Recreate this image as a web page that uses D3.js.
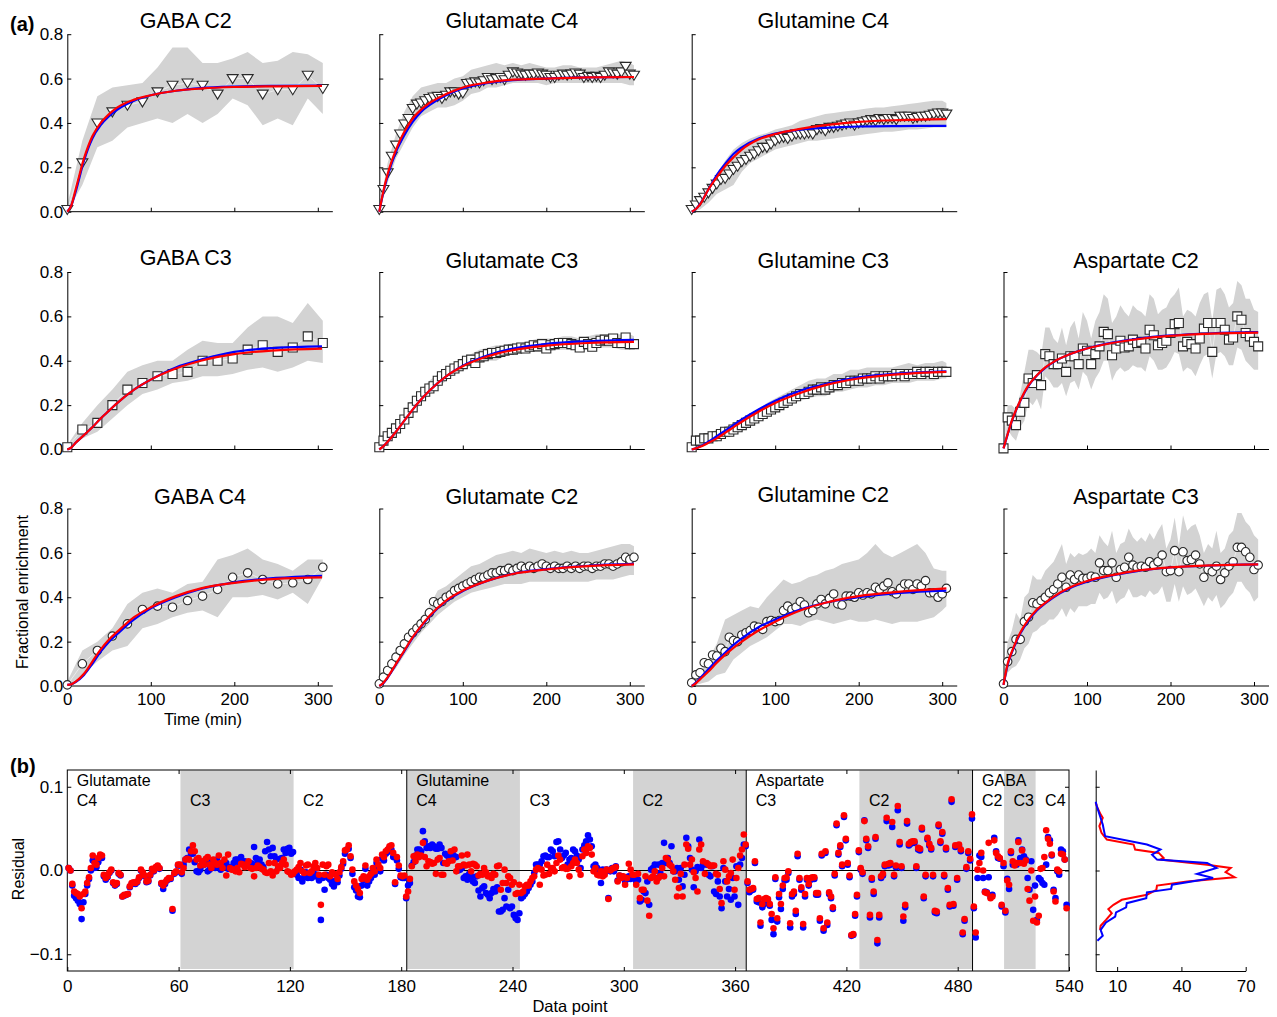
<!DOCTYPE html>
<html><head><meta charset="utf-8">
<script src="https://cdn.jsdelivr.net/npm/d3@7"></script>
<style>
body{margin:0;background:#fff;}
svg{display:block;font-family:"Liberation Sans",Arial,sans-serif;}
</style></head><body>
<svg id="chart" width="1277" height="1017"></svg>
<script>
// ---------- time grids ----------
const T5 = [0,5,10,15,20,25,30,35,40,45,50,55,60,65,70,75,80,85,90,95,100,105,110,115,120,125,130,135,140,145,150,155,160,165,170,175,180,185,190,195,200,205,210,215,220,225,230,235,240,245,250,255,260,265,270,275,280,285,290,295,300,305];
const TG = [0,18,36,54,72,90,108,126,144,162,180,198,216,234,252,270,288,306];
const T10 = [0,10,20,30,40,50,60,70,80,90,100,110,120,130,140,150,160,170,180,190,200,210,220,230,240,250,260,270,280,290,300,305];
const TF = [0,5,10,20,30,40,50,60,80,100,130,160,200,250,305];

// ---------- GABA C2 ----------
const GABA_C2_val = [0.01,0.22,0.40,0.45,0.48,0.495,0.54,0.57,0.58,0.57,0.53,0.60,0.60,0.53,0.55,0.55,0.615,0.555];
const GABA_C2_lo  = [0,0.12,0.29,0.32,0.38,0.40,0.42,0.40,0.44,0.40,0.44,0.51,0.48,0.39,0.42,0.39,0.51,0.44];
const GABA_C2_hi  = [0.03,0.32,0.52,0.56,0.57,0.58,0.65,0.74,0.74,0.67,0.67,0.69,0.72,0.67,0.68,0.72,0.71,0.67];
const GABA_C2_red = [0,0.03,0.10,0.24,0.34,0.40,0.44,0.47,0.505,0.525,0.545,0.555,0.562,0.565,0.567];
const GABA_C2_blue= [0,0.03,0.09,0.23,0.33,0.39,0.43,0.46,0.50,0.525,0.545,0.557,0.564,0.567,0.568];
// ---------- Glutamate C4 ----------
const GLU_C4_val = [0.01,0.10,0.175,0.25,0.30,0.35,0.395,0.42,0.465,0.485,0.49,0.50,0.51,0.517,0.52,0.51,0.525,0.54,0.54,0.53,0.535,0.578,0.58,0.585,0.58,0.59,0.605,0.595,0.60,0.605,0.595,0.615,0.63,0.625,0.62,0.615,0.62,0.62,0.625,0.62,0.615,0.605,0.605,0.615,0.62,0.615,0.62,0.625,0.62,0.605,0.61,0.605,0.61,0.605,0.615,0.63,0.625,0.62,0.63,0.655,0.62,0.615];
const GLU_C4_lo = [0,0.13,0.24,0.31,0.38,0.43,0.45,0.47,0.47,0.48,0.50,0.53,0.54,0.56,0.56,0.57,0.58,0.58,0.58,0.58,0.57,0.58,0.58,0.58,0.58,0.58,0.58,0.58,0.58,0.58,0.57,0.57];
const GLU_C4_hi = [0.02,0.22,0.35,0.45,0.52,0.56,0.57,0.58,0.58,0.60,0.61,0.64,0.65,0.66,0.67,0.66,0.67,0.66,0.67,0.66,0.65,0.65,0.66,0.66,0.65,0.65,0.65,0.66,0.67,0.68,0.67,0.66];
const GLU_C4_red = [0,0.095,0.17,0.28,0.36,0.42,0.46,0.49,0.53,0.56,0.583,0.595,0.60,0.605,0.607];
const GLU_C4_blue= [0,0.09,0.16,0.27,0.345,0.405,0.45,0.48,0.525,0.555,0.58,0.593,0.60,0.605,0.607];
// ---------- Glutamine C4 ----------
const GLN_C4_val = [0.01,0.03,0.05,0.065,0.085,0.105,0.125,0.145,0.15,0.17,0.19,0.205,0.225,0.235,0.25,0.26,0.275,0.29,0.29,0.305,0.32,0.33,0.335,0.33,0.34,0.35,0.35,0.35,0.355,0.35,0.37,0.375,0.365,0.38,0.38,0.385,0.39,0.395,0.40,0.39,0.40,0.405,0.41,0.415,0.41,0.42,0.415,0.42,0.42,0.415,0.43,0.43,0.43,0.42,0.425,0.43,0.43,0.435,0.44,0.445,0.445,0.44];
const GLN_C4_lo = [0,0.01,0.04,0.08,0.10,0.12,0.18,0.22,0.24,0.26,0.28,0.29,0.30,0.31,0.32,0.32,0.325,0.33,0.335,0.34,0.345,0.35,0.355,0.36,0.36,0.365,0.37,0.37,0.375,0.38,0.38,0.38];
const GLN_C4_hi = [0.02,0.06,0.11,0.17,0.23,0.28,0.31,0.33,0.345,0.355,0.37,0.38,0.39,0.41,0.42,0.43,0.44,0.445,0.45,0.455,0.46,0.465,0.47,0.47,0.475,0.48,0.485,0.49,0.495,0.50,0.50,0.49];
const GLN_C4_red = [0,0.012,0.033,0.10,0.155,0.205,0.245,0.28,0.325,0.35,0.373,0.39,0.405,0.413,0.417];
const GLN_C4_blue= [0,0.012,0.035,0.10,0.165,0.215,0.26,0.29,0.33,0.352,0.37,0.378,0.384,0.386,0.387];
// ---------- GABA C3 ----------
const GABA_C3_val = [0.01,0.09,0.12,0.20,0.27,0.30,0.33,0.34,0.35,0.40,0.40,0.41,0.45,0.47,0.44,0.46,0.51,0.48];
const GABA_C3_lo  = [0,0.05,0.08,0.14,0.20,0.25,0.27,0.30,0.31,0.33,0.33,0.34,0.36,0.37,0.35,0.37,0.40,0.39];
const GABA_C3_hi  = [0.02,0.12,0.20,0.27,0.35,0.38,0.40,0.40,0.45,0.49,0.48,0.48,0.55,0.60,0.60,0.57,0.66,0.58];
const GABA_C3_red = [0,0.01,0.03,0.065,0.10,0.14,0.175,0.21,0.27,0.315,0.365,0.40,0.43,0.447,0.455];
const GABA_C3_blue= [0,0.01,0.03,0.065,0.10,0.14,0.175,0.21,0.27,0.315,0.37,0.405,0.44,0.458,0.465];
// ---------- Glutamate C3 ----------
const GLU_C3_val = [0.01,0.04,0.06,0.075,0.095,0.115,0.135,0.165,0.19,0.22,0.24,0.26,0.275,0.285,0.31,0.33,0.34,0.355,0.365,0.375,0.385,0.40,0.405,0.39,0.415,0.42,0.43,0.435,0.435,0.44,0.445,0.45,0.45,0.455,0.46,0.455,0.463,0.47,0.465,0.475,0.455,0.47,0.475,0.48,0.48,0.48,0.475,0.47,0.46,0.485,0.475,0.463,0.48,0.49,0.495,0.49,0.50,0.48,0.48,0.505,0.475,0.475];
const GLU_C3_lo = [0,0.04,0.07,0.11,0.16,0.21,0.25,0.28,0.31,0.34,0.36,0.38,0.39,0.40,0.40,0.42,0.43,0.43,0.44,0.44,0.44,0.45,0.45,0.45,0.45,0.45,0.46,0.46,0.46,0.45,0.45,0.46];
const GLU_C3_hi = [0.02,0.08,0.12,0.16,0.22,0.27,0.31,0.34,0.37,0.39,0.41,0.43,0.45,0.46,0.47,0.47,0.48,0.48,0.49,0.50,0.50,0.50,0.51,0.51,0.50,0.51,0.52,0.52,0.52,0.52,0.52,0.51];
const GLU_C3_red = [0,0.015,0.035,0.08,0.13,0.18,0.225,0.265,0.33,0.375,0.42,0.448,0.468,0.48,0.485];
const GLU_C3_blue= [0,0.015,0.035,0.08,0.13,0.18,0.225,0.265,0.33,0.378,0.425,0.455,0.476,0.488,0.494];
// ---------- Glutamine C3 ----------
const GLN_C3_val = [0.01,0.04,0.04,0.05,0.05,0.06,0.06,0.07,0.08,0.08,0.09,0.10,0.11,0.12,0.13,0.14,0.15,0.16,0.17,0.18,0.19,0.20,0.21,0.22,0.23,0.24,0.25,0.25,0.26,0.27,0.27,0.28,0.27,0.28,0.29,0.29,0.30,0.30,0.31,0.31,0.31,0.32,0.32,0.32,0.33,0.32,0.33,0.33,0.33,0.34,0.34,0.33,0.34,0.34,0.35,0.34,0.35,0.35,0.34,0.35,0.35,0.35];
const GLN_C3_lo = [0,0.02,0.03,0.05,0.06,0.08,0.10,0.12,0.14,0.16,0.17,0.19,0.21,0.22,0.23,0.24,0.24,0.26,0.26,0.27,0.28,0.28,0.29,0.29,0.30,0.30,0.30,0.31,0.31,0.31,0.32,0.32];
const GLN_C3_hi = [0.02,0.06,0.07,0.09,0.10,0.12,0.14,0.16,0.18,0.21,0.23,0.25,0.27,0.29,0.31,0.32,0.32,0.34,0.34,0.36,0.36,0.37,0.37,0.37,0.37,0.38,0.39,0.38,0.39,0.39,0.40,0.39];
const GLN_C3_red = [0,0.005,0.012,0.03,0.05,0.075,0.10,0.125,0.17,0.21,0.255,0.29,0.32,0.34,0.35];
const GLN_C3_blue= [0,0.005,0.013,0.035,0.06,0.085,0.11,0.135,0.18,0.22,0.265,0.295,0.325,0.343,0.352];
// ---------- Aspartate C2 ----------
const ASP_C2_val = [0.005,0.145,0.13,0.11,0.17,0.21,0.32,0.30,0.335,0.29,0.43,0.42,0.385,0.385,0.41,0.35,0.42,0.42,0.385,0.455,0.445,0.385,0.43,0.465,0.53,0.52,0.425,0.455,0.49,0.46,0.465,0.495,0.48,0.485,0.455,0.54,0.515,0.47,0.48,0.49,0.525,0.565,0.57,0.465,0.485,0.475,0.455,0.50,0.545,0.57,0.44,0.57,0.57,0.54,0.495,0.505,0.60,0.585,0.525,0.51,0.485,0.465];
const ASP_C2_lo = [0,0.09,0.06,0.04,0.10,0.13,0.22,0.20,0.23,0.18,0.33,0.31,0.28,0.28,0.30,0.24,0.30,0.31,0.27,0.35,0.33,0.27,0.32,0.35,0.40,0.40,0.31,0.35,0.37,0.35,0.36,0.38,0.37,0.37,0.35,0.42,0.40,0.36,0.36,0.37,0.40,0.44,0.43,0.35,0.37,0.36,0.33,0.38,0.42,0.43,0.32,0.43,0.44,0.42,0.38,0.38,0.46,0.45,0.40,0.38,0.36,0.36];
const ASP_C2_hi = [0.02,0.20,0.20,0.18,0.25,0.35,0.45,0.45,0.44,0.42,0.55,0.55,0.50,0.48,0.55,0.47,0.55,0.58,0.50,0.62,0.58,0.50,0.58,0.62,0.70,0.68,0.57,0.60,0.65,0.62,0.60,0.65,0.63,0.62,0.60,0.70,0.68,0.61,0.63,0.64,0.68,0.70,0.73,0.60,0.63,0.62,0.60,0.66,0.70,0.71,0.58,0.72,0.73,0.70,0.64,0.66,0.76,0.74,0.68,0.68,0.63,0.62];
const ASP_C2_red = [0.005,0.07,0.13,0.22,0.29,0.335,0.37,0.395,0.43,0.455,0.48,0.497,0.512,0.522,0.527];
const ASP_C2_blue= [0.005,0.068,0.128,0.218,0.287,0.333,0.368,0.394,0.43,0.456,0.482,0.499,0.514,0.524,0.529];
// ---------- GABA C4 ----------
const GABA_C4_val = [0.005,0.10,0.16,0.225,0.28,0.345,0.36,0.355,0.385,0.405,0.435,0.49,0.51,0.48,0.46,0.465,0.48,0.535];
const GABA_C4_lo  = [0,0.05,0.11,0.16,0.18,0.26,0.28,0.31,0.33,0.34,0.31,0.40,0.40,0.41,0.39,0.42,0.37,0.49];
const GABA_C4_hi  = [0.02,0.16,0.20,0.26,0.37,0.42,0.44,0.42,0.46,0.47,0.57,0.59,0.62,0.57,0.55,0.52,0.57,0.57];
const GABA_C4_red = [0.005,0.008,0.02,0.055,0.11,0.165,0.21,0.245,0.31,0.355,0.405,0.44,0.465,0.483,0.49];
const GABA_C4_blue= [0.005,0.008,0.018,0.05,0.10,0.155,0.20,0.235,0.30,0.35,0.40,0.437,0.467,0.487,0.497];
// ---------- Glutamate C2 ----------
const GLU_C2_val = [0.01,0.04,0.07,0.10,0.13,0.16,0.19,0.22,0.24,0.26,0.28,0.30,0.33,0.38,0.37,0.38,0.40,0.41,0.43,0.44,0.45,0.46,0.47,0.48,0.49,0.49,0.50,0.51,0.51,0.52,0.52,0.53,0.52,0.53,0.54,0.53,0.54,0.53,0.54,0.55,0.54,0.53,0.54,0.53,0.53,0.54,0.53,0.54,0.53,0.54,0.54,0.53,0.54,0.54,0.55,0.55,0.54,0.55,0.56,0.58,0.57,0.58];
const GLU_C2_lo = [0,0.04,0.08,0.14,0.19,0.24,0.28,0.32,0.35,0.38,0.40,0.42,0.43,0.44,0.45,0.46,0.46,0.46,0.47,0.47,0.47,0.47,0.47,0.47,0.47,0.47,0.48,0.48,0.48,0.49,0.50,0.50];
const GLU_C2_hi = [0.02,0.08,0.13,0.20,0.26,0.31,0.36,0.43,0.45,0.48,0.51,0.54,0.55,0.57,0.59,0.60,0.61,0.60,0.62,0.61,0.60,0.61,0.60,0.61,0.60,0.60,0.61,0.62,0.63,0.64,0.64,0.63];
const GLU_C2_red = [0,0.015,0.04,0.10,0.16,0.22,0.27,0.315,0.385,0.43,0.475,0.505,0.525,0.54,0.548];
const GLU_C2_blue= [0,0.013,0.037,0.097,0.157,0.217,0.267,0.312,0.382,0.428,0.475,0.506,0.527,0.542,0.55];
// ---------- Glutamine C2 ----------
const GLN_C2_val = [0.015,0.05,0.06,0.105,0.10,0.14,0.135,0.17,0.155,0.22,0.205,0.20,0.23,0.24,0.25,0.27,0.265,0.255,0.29,0.295,0.29,0.295,0.34,0.36,0.345,0.355,0.38,0.365,0.33,0.34,0.37,0.39,0.37,0.395,0.415,0.37,0.365,0.405,0.405,0.40,0.42,0.41,0.42,0.415,0.445,0.435,0.45,0.465,0.425,0.415,0.44,0.46,0.46,0.435,0.46,0.45,0.475,0.42,0.42,0.40,0.415,0.44];
const GLN_C2_lo = [0,0.01,0.02,0.05,0.06,0.12,0.15,0.18,0.20,0.22,0.25,0.28,0.28,0.27,0.29,0.30,0.29,0.28,0.29,0.30,0.29,0.29,0.30,0.29,0.28,0.29,0.29,0.29,0.30,0.31,0.34,0.36];
const GLN_C2_hi = [0.02,0.06,0.12,0.19,0.30,0.32,0.34,0.36,0.35,0.40,0.44,0.48,0.46,0.47,0.49,0.50,0.52,0.53,0.55,0.56,0.57,0.60,0.64,0.60,0.58,0.60,0.62,0.64,0.60,0.53,0.52,0.52];
const GLN_C2_red = [0,0.012,0.03,0.065,0.105,0.14,0.172,0.20,0.25,0.29,0.34,0.375,0.405,0.425,0.44];
const GLN_C2_blue= [0,0.015,0.035,0.075,0.115,0.15,0.185,0.215,0.265,0.30,0.345,0.375,0.40,0.42,0.43];
// ---------- Aspartate C3 ----------
const ASP_C3_val = [0.01,0.11,0.155,0.21,0.21,0.29,0.31,0.375,0.37,0.385,0.40,0.42,0.435,0.46,0.49,0.445,0.50,0.48,0.50,0.485,0.485,0.495,0.49,0.555,0.52,0.52,0.555,0.49,0.525,0.535,0.58,0.545,0.535,0.54,0.535,0.56,0.545,0.56,0.59,0.515,0.52,0.61,0.515,0.605,0.565,0.57,0.59,0.55,0.49,0.525,0.515,0.54,0.48,0.51,0.54,0.56,0.625,0.625,0.605,0.58,0.525,0.545];
const ASP_C3_lo = [0,0.06,0.08,0.09,0.12,0.17,0.19,0.24,0.25,0.27,0.28,0.30,0.30,0.32,0.35,0.31,0.35,0.33,0.36,0.36,0.36,0.37,0.37,0.42,0.39,0.40,0.43,0.37,0.39,0.40,0.44,0.40,0.40,0.41,0.40,0.43,0.41,0.42,0.45,0.38,0.38,0.46,0.38,0.45,0.41,0.42,0.44,0.40,0.36,0.40,0.38,0.41,0.35,0.37,0.40,0.42,0.47,0.47,0.44,0.42,0.38,0.40];
const ASP_C3_hi = [0.02,0.20,0.25,0.33,0.30,0.40,0.42,0.50,0.48,0.48,0.52,0.54,0.56,0.60,0.64,0.55,0.60,0.58,0.60,0.59,0.60,0.62,0.60,0.68,0.65,0.63,0.70,0.60,0.64,0.65,0.71,0.67,0.65,0.67,0.65,0.69,0.66,0.70,0.73,0.62,0.66,0.76,0.63,0.77,0.70,0.72,0.73,0.68,0.60,0.64,0.62,0.70,0.60,0.62,0.68,0.70,0.78,0.78,0.74,0.72,0.68,0.66];
const ASP_C3_red = [0.005,0.10,0.155,0.24,0.30,0.345,0.375,0.403,0.445,0.473,0.50,0.52,0.535,0.544,0.548];
const ASP_C3_blue= [0.005,0.095,0.15,0.235,0.295,0.34,0.372,0.40,0.442,0.47,0.498,0.518,0.534,0.543,0.548];

// ---------- residuals (units of 0.001), one array per segment ----------
const SEG_LABELS = [["Glutamate","C4"],["C3"],["C2"],["Glutamine","C4"],["C3"],["C2"],["Aspartate","C3"],["C2"],["GABA","C2"],["C3"],["C4"]];
const SEG_START = [0,61,122,183,244,305,366,427,488,505,522];
const SEG_LEN   = [61,61,61,61,61,61,61,61,17,17,17];
const SEG_SHADED= [0,1,0,1,0,1,0,1,0,1,0];
const METAB_BOUNDS = [183,366,488];
const RES_RED = [
 [3,0,-16,-25,-27,-28,-31,-45,-28,-25,-15,-8,3,18,9,7,15,19,18,-5,-9,-7,-2,1,-14,-17,-15,-3,-5,-31,-29,-29,-28,-19,-15,-14,-15,-13,-8,1,-2,-6,-13,-12,-5,2,0,4,6,3,-15,-18,-14,-11,-9,-9,-46,-3,-1,7,7],
 [-2,3,13,14,13,23,30,23,13,15,6,11,7,14,16,7,3,13,9,7,18,9,3,13,-6,19,3,1,1,-1,3,-2,8,7,4,7,11,3,2,-7,3,6,4,2,1,-2,-3,9,-1,-6,9,-1,5,3,9,13,7,-1,-2,-5,-4],
 [-1,1,4,9,-1,-3,6,7,-3,-1,5,9,3,-5,-41,7,-5,5,7,-7,-2,-4,-5,-10,-2,4,11,24,25,30,17,1,-13,-18,-22,-27,-10,-7,6,-11,-7,-4,3,-1,13,7,3,19,16,23,25,29,30,21,-14,16,6,-6,-7,-6,-31],
 [-25,-10,5,17,11,19,16,18,33,16,5,11,10,8,9,-4,13,15,-5,-5,9,8,11,23,12,25,-1,5,5,18,7,6,19,7,-1,8,7,5,-6,-4,-5,3,-2,-7,-6,-9,-4,-5,5,6,-23,-15,1,-15,-7,-9,-17,-14,-28,-27,-17],
 [-27,-25,-19,-17,-18,-13,-9,-7,1,3,-17,1,-6,-5,7,-4,3,3,-1,9,18,13,3,4,2,2,-7,5,9,13,9,1,-5,17,25,21,29,27,19,-1,3,-5,-6,-1,-7,-5,1,-34,0,2,3,4,-13,-6,-9,-7,-17,-9,8,1,-5],
 [-5,-17,-4,-33,-23,-23,-7,-36,-54,-9,-7,-1,-13,-9,-7,3,-7,15,13,7,5,-1,-11,-31,-21,-4,-31,7,31,26,7,13,-2,-9,-25,25,31,11,-4,9,7,5,6,6,-4,-5,-22,-39,11,1,-13,-7,-3,13,-23,-9,3,18,25,43,31],
 [-13,-23,-22,-21,11,-34,-33,-62,-40,-34,-33,-34,-40,-52,-69,-8,-57,-28,-40,-18,-9,-8,-1,-63,-28,-25,-48,20,-9,-20,-64,-28,-9,-16,-9,-8,-8,-27,-27,-57,20,-69,23,-62,-26,-31,-44,-4,56,21,30,7,66,38,9,-6,-77,-76,-52,-29,24],
 [3,-2,59,38,29,-53,-9,-25,40,-83,-53,-7,-4,7,63,8,9,58,-5,6,77,34,5,-55,-41,59,32,34,35,35,5,27,26,51,-31,-5,39,32,27,-5,-48,-49,55,35,46,-5,27,-21,-41,85,-40,30,-9,31,25,-74,-58,4,23,14,67],
 [-43,-74,1,9,21,0,-26,-27,33,-33,-31,36,21,17,15,-41,9],
 [-48,-12,-17,23,11,6,9,34,9,24,8,12,-22,-36,0,-60,-31],
 [-62,-54,2,3,16,48,38,32,19,-25,-37,1,-1,20,19,13,-45]
];
const RES_BLUE = [
 [3,0,-18,-30,-33,-36,-40,-58,-38,-28,-18,-10,0,12,3,4,10,15,15,-7,-11,-8,-3,0,-15,-18,-16,-4,-6,-31,-30,-29,-28,-20,-16,-15,-16,-14,-9,0,-3,-7,-14,-13,-6,1,-1,3,5,2,-16,-22,-16,-12,-10,-10,-48,-4,-2,6,6],
 [-4,7,13,15,25,20,20,10,-1,-2,1,6,7,9,-1,1,11,5,3,13,7,1,7,7,9,2,4,4,9,13,13,9,16,10,11,9,7,9,8,28,15,9,13,7,4,23,34,25,17,27,17,13,3,14,15,25,21,26,27,20,22],
 [-3,-5,-9,1,-13,-8,-2,-9,-6,-9,-2,-7,-5,-12,-59,-9,-23,-5,-9,-11,-16,-19,-12,-14,-6,2,8,20,25,26,15,-4,-20,-24,-31,-32,-18,-12,2,-18,-13,-9,-2,-5,9,4,-1,14,12,20,22,27,25,16,-16,12,2,-8,-9,-9,-33],
 [-18,-15,6,10,18,25,25,23,47,35,27,29,27,31,29,26,26,31,27,9,20,18,16,14,21,17,16,0,1,3,-9,-7,-11,-4,-7,-13,-15,-7,-24,-31,-21,-19,-27,-29,-33,-27,-22,-25,-20,-49,-49,-47,-33,-43,-23,-45,-43,-53,-57,-59,-51],
 [-33,-31,-28,-25,-21,-17,-13,-3,7,7,7,11,17,18,16,16,25,23,17,34,35,25,15,18,21,7,13,15,25,23,18,13,3,25,30,35,42,37,29,5,7,3,-2,-15,1,-2,1,-33,-1,3,-1,5,-12,-6,-7,-9,-13,-10,-7,-10,-8],
 [-7,-13,-11,-37,-35,-25,-27,-13,-41,1,3,7,-9,7,-3,9,33,9,15,9,29,-1,-1,3,-11,3,-19,-5,39,29,15,1,-20,-1,4,37,3,7,9,7,-5,-7,5,-25,-28,-13,-31,-45,3,-13,-31,-22,-35,-9,-31,5,-41,7,15,31,29],
 [-15,-26,-24,-23,9,-37,-38,-66,-44,-40,-38,-36,-42,-59,-76,-10,-61,-32,-46,-22,-12,-11,-3,-68,-31,-28,-52,17,-11,-23,-68,-31,-11,-18,-11,-10,-10,-29,-29,-60,18,-72,21,-65,-28,-33,-46,-6,54,19,28,5,64,36,7,-8,-78,-77,-54,-31,22],
 [1,-4,60,36,27,-56,-11,-28,38,-87,-56,-9,-6,5,59,6,7,52,-7,4,72,31,3,-60,-44,56,30,32,33,33,3,25,24,49,-33,-7,37,30,25,-7,-50,-51,53,33,44,-7,25,-23,-43,82,-42,28,-11,29,23,-76,-60,2,21,12,62],
 [-45,-80,-9,18,16,-9,-25,-26,-8,-31,-29,39,23,15,14,-43,5],
 [-50,-10,-22,21,7,7,7,36,15,25,17,13,-9,-23,11,-47,-18],
 [-59,-9,-11,-15,-17,7,40,36,18,-23,-33,-1,-5,25,23,13,-41]
];

// ---------- residual histograms (residual, count) ----------
const HIST_RED_RES = [0.081,0.075,0.067,0.063,0.053,0.045,0.037,0.031,0.025,0.021,0.015,0.013,0.007,0.003,-0.002,-0.008,-0.013,-0.018,-0.023,-0.029,-0.035,-0.041,-0.046,-0.051,-0.059,-0.066,-0.071];
const HIST_RED_CNT = [0,0.8,2.3,3.3,1.7,2.7,5.2,17.7,18.4,29.4,31.7,30.2,52,63,60.6,64.8,42.7,28.6,28.3,23.9,12.2,8.3,5.9,7.5,4.8,2.3,2.0];
const HIST_BLUE_RES = [0.082,0.077,0.065,0.055,0.047,0.041,0.031,0.025,0.019,0.013,0.009,0.003,-0.004,-0.009,-0.017,-0.022,-0.026,-0.033,-0.039,-0.044,-0.050,-0.055,-0.062,-0.071,-0.078,-0.084];
const HIST_BLUE_CNT = [0,0.5,2,3.3,3.9,4.4,23.9,30.2,26.3,28.6,52,56.4,47.3,54.8,35.6,35.2,23.9,23.6,14.5,14.2,9.5,9.1,4.8,2.3,3.3,0.8];

// ---------- panel table ----------
const panels = [
 {title:"GABA C2", col:0,row:0,tdx:118.5,tby:28, mk:"tri", t:TG, v:GABA_C2_val, bt:TG, lo:GABA_C2_lo, hi:GABA_C2_hi, red:GABA_C2_red, blue:GABA_C2_blue},
 {title:"Glutamate C4", col:1,row:0,tdx:132.5,tby:28, mk:"tri", t:T5, v:GLU_C4_val, bt:T10, lo:GLU_C4_lo, hi:GLU_C4_hi, red:GLU_C4_red, blue:GLU_C4_blue},
 {title:"Glutamine C4", col:2,row:0,tdx:131.5,tby:28, mk:"tri", t:T5, v:GLN_C4_val, bt:T10, lo:GLN_C4_lo, hi:GLN_C4_hi, red:GLN_C4_red, blue:GLN_C4_blue},
 {title:"GABA C3", col:0,row:1,tdx:118.5,tby:265, mk:"sq", t:TG, v:GABA_C3_val, bt:TG, lo:GABA_C3_lo, hi:GABA_C3_hi, red:GABA_C3_red, blue:GABA_C3_blue},
 {title:"Glutamate C3", col:1,row:1,tdx:132.5,tby:268, mk:"sq", t:T5, v:GLU_C3_val, bt:T10, lo:GLU_C3_lo, hi:GLU_C3_hi, red:GLU_C3_red, blue:GLU_C3_blue},
 {title:"Glutamine C3", col:2,row:1,tdx:131.5,tby:268, mk:"sq", t:T5, v:GLN_C3_val, bt:T10, lo:GLN_C3_lo, hi:GLN_C3_hi, red:GLN_C3_red, blue:GLN_C3_blue},
 {title:"Aspartate C2", col:3,row:1,tdx:132.5,tby:268, mk:"sq", t:T5, v:ASP_C2_val, bt:T5, lo:ASP_C2_lo, hi:ASP_C2_hi, red:ASP_C2_red, blue:ASP_C2_blue},
 {title:"GABA C4", col:0,row:2,tdx:132.7,tby:504, mk:"ci", t:TG, v:GABA_C4_val, bt:TG, lo:GABA_C4_lo, hi:GABA_C4_hi, red:GABA_C4_red, blue:GABA_C4_blue},
 {title:"Glutamate C2", col:1,row:2,tdx:132.5,tby:504, mk:"ci", t:T5, v:GLU_C2_val, bt:T10, lo:GLU_C2_lo, hi:GLU_C2_hi, red:GLU_C2_red, blue:GLU_C2_blue},
 {title:"Glutamine C2", col:2,row:2,tdx:131.5,tby:502, mk:"ci", t:T5, v:GLN_C2_val, bt:T10, lo:GLN_C2_lo, hi:GLN_C2_hi, red:GLN_C2_red, blue:GLN_C2_blue},
 {title:"Aspartate C3", col:3,row:2,tdx:132.5,tby:504, mk:"ci", t:T5, v:ASP_C3_val, bt:T5, lo:ASP_C3_lo, hi:ASP_C3_hi, red:ASP_C3_red, blue:ASP_C3_blue}
];

// ---------- drawing ----------
const svg = d3.select("#chart");
const FONT = '"Liberation Sans",Arial,sans-serif';
const COLX = [67.3,379.3,691.7,1003.5];
const ROWY = [211.7,449.5,686];
const BAND = "#d3d3d3";
const RED = "#ff0000", BLUE = "#0000ff";

function styleAxis(g, size){
  g.attr("font-family", FONT).attr("font-size", size);
  g.selectAll("text").attr("fill","#000");
  g.selectAll("line").attr("stroke","#000");
  g.selectAll(".domain").attr("stroke","#000");
}

const markerPath = {
  tri: "M-5.5,-4L5.5,-4L0,5Z",
  sq: "M-4.5,-4.5H4.5V4.5H-4.5Z",
  ci: d3.symbol().type(d3.symbolCircle).size(Math.PI*18)()
};

panels.forEach(p => {
  const ox = COLX[p.col], zy = ROWY[p.row];
  const x = d3.scaleLinear().domain([0,300]).range([ox, ox+250.5]);
  const y = d3.scaleLinear().domain([0,0.8]).range([zy, zy-177.5]);
  const g = svg.append("g");
  const area = d3.area().x((d,i)=>x(p.bt[i])).y0(d=>y(d[0])).y1(d=>y(d[1]));
  g.append("path").attr("fill",BAND).attr("d", area(p.lo.map((l,i)=>[l,p.hi[i]])));
  g.append("path").attr("fill","none").attr("stroke","#ececec").attr("stroke-width",1)
    .attr("d", d3.line().x((d,i)=>x(p.t[i])).y(d=>y(d))(p.v));
  const ya = d3.axisLeft(y).tickValues([0,0.2,0.4,0.6,0.8]).tickSize(-4).tickSizeOuter(0).tickPadding(4)
    .tickFormat(p.col===0 ? d3.format(".1f") : ()=>"");
  const yg = g.append("g").attr("transform",`translate(${ox},0)`).call(ya);
  styleAxis(yg, 17);
  const xa = d3.axisBottom(x).tickValues([0,100,200,300]).tickSize(-4).tickSizeOuter(0).tickPadding(7)
    .tickFormat(p.row===2 ? d3.format("d") : ()=>"");
  const xg = g.append("g").attr("transform",`translate(0,${zy})`).call(xa);
  xg.select(".domain").remove();
  styleAxis(xg, 17);
  g.append("line").attr("x1",ox).attr("x2",x(318)).attr("y1",zy).attr("y2",zy).attr("stroke","#000");
  g.selectAll("path.mk").data(p.v).enter().append("path").attr("class","mk")
    .attr("d", markerPath[p.mk])
    .attr("transform",(d,i)=>`translate(${x(p.t[i])},${y(d)})`)
    .attr("fill","#fff").attr("stroke","#2a2a2a").attr("stroke-width",1.1);
  const fl = d3.line().x((d,i)=>x(TF[i])).y(d=>y(d)).curve(d3.curveMonotoneX);
  g.append("path").attr("d",fl(p.blue)).attr("fill","none").attr("stroke",BLUE).attr("stroke-width",2.2);
  g.append("path").attr("d",fl(p.red)).attr("fill","none").attr("stroke",RED).attr("stroke-width",2.2);
  g.append("text").attr("x",ox+p.tdx).attr("y",p.tby).attr("text-anchor","middle")
    .attr("font-family",FONT).attr("font-size",21.5).text(p.title);
});

svg.append("text").attr("x",10).attr("y",31).attr("font-family",FONT).attr("font-size",20).attr("font-weight","bold").text("(a)");
svg.append("text").attr("x",10).attr("y",773).attr("font-family",FONT).attr("font-size",20).attr("font-weight","bold").text("(b)");
svg.append("text").attr("transform","translate(28,592) rotate(-90)").attr("text-anchor","middle")
  .attr("font-family",FONT).attr("font-size",16).text("Fractional enrichment");
svg.append("text").attr("x",203).attr("y",725).attr("text-anchor","middle")
  .attr("font-family",FONT).attr("font-size",16.5).text("Time (min)");

// ---------- residual panel ----------
const rx = d3.scaleLinear().domain([0,540]).range([67.3,1069]);
const ry = d3.scaleLinear().domain([-0.12,0.12]).range([971,770]);
const rg = svg.append("g");
SEG_START.forEach((s,i)=>{
  if (SEG_SHADED[i]) rg.append("rect").attr("x",rx(s)).attr("width",rx(s+SEG_LEN[i])-rx(s))
    .attr("y",770.5).attr("height",198.5).attr("fill",BAND);
});
rg.append("line").attr("x1",rx(0)).attr("x2",rx(540)).attr("y1",ry(0)).attr("y2",ry(0)).attr("stroke","#000");
METAB_BOUNDS.forEach(b=>{
  rg.append("line").attr("x1",rx(b)).attr("x2",rx(b)).attr("y1",770).attr("y2",971).attr("stroke","#000");
});
const ral = d3.axisLeft(ry).tickValues([-0.1,0,0.1]).tickSize(-4).tickSizeOuter(0).tickPadding(4).tickFormat(d3.format(".1f"));
const ralg = rg.append("g").attr("transform",`translate(${rx(0)},0)`).call(ral); ralg.select(".domain").remove(); styleAxis(ralg,17);
const rar = d3.axisRight(ry).tickValues([-0.1,0,0.1]).tickSize(-4).tickSizeOuter(0).tickFormat(()=>"");
const rarg = rg.append("g").attr("transform",`translate(${rx(540)},0)`).call(rar); rarg.select(".domain").remove(); styleAxis(rarg,17);
const rab = d3.axisBottom(rx).tickValues([0,60,120,180,240,300,360,420,480,540]).tickSize(-4).tickSizeOuter(0).tickPadding(8.5);
const rabg = rg.append("g").attr("transform",`translate(0,${ry(-0.12)})`).call(rab); rabg.select(".domain").remove(); styleAxis(rabg,17);
const rat = d3.axisTop(rx).tickValues([60,120,180,240,300,360,420,480]).tickSize(-4).tickSizeOuter(0).tickFormat(()=>"");
const ratg = rg.append("g").attr("transform",`translate(0,${ry(0.12)})`).call(rat); ratg.select(".domain").remove(); styleAxis(ratg,17);
rg.append("rect").attr("x",rx(0)).attr("y",770).attr("width",rx(540)-rx(0)).attr("height",201)
  .attr("fill","none").attr("stroke","#000");
SEG_LABELS.forEach((lab,i)=>{
  const lx = rx(SEG_START[i]) + 9.5;
  const lines = lab.length===2 ? [[lab[0],785.5],[lab[1],806]] : [[lab[0],806]];
  lines.forEach(([t,yy])=> rg.append("text").attr("x",lx).attr("y",yy).attr("font-family",FONT).attr("font-size",16).text(t));
});
[[RES_BLUE,BLUE],[RES_RED,RED]].forEach(([arrs,col])=>{
  arrs.forEach((vals,si)=>{
    rg.selectAll(null).data(vals).enter().append("circle")
      .attr("cx",(d,j)=>rx(SEG_START[si]+j+0.7)).attr("cy",d=>ry(d/1000)).attr("r",3.3).attr("fill",col);
  });
});
svg.append("text").attr("transform","translate(24,869) rotate(-90)").attr("text-anchor","middle")
  .attr("font-family",FONT).attr("font-size",16).text("Residual");
svg.append("text").attr("x",570).attr("y",1012).attr("text-anchor","middle")
  .attr("font-family",FONT).attr("font-size",16.5).text("Data point");

// ---------- histogram ----------
const hx = d3.scaleLinear().domain([0,70]).range([1095.7,1245.7]);
const hg = svg.append("g");
const hal = d3.axisLeft(ry).tickValues([-0.1,0,0.1]).tickSize(-4).tickSizeOuter(0).tickFormat(()=>"");
const halg = hg.append("g").attr("transform",`translate(${hx(0)},0)`).call(hal); styleAxis(halg,17);
const hab = d3.axisBottom(hx).tickValues([10,40,70]).tickSize(-4).tickSizeOuter(0).tickPadding(8.5);
const habg = hg.append("g").attr("transform",`translate(0,${ry(-0.12)})`).call(hab); styleAxis(habg,17);
const hl = d3.line().x(d=>hx(d[1])).y(d=>ry(d[0]));
hg.append("path").attr("d",hl(HIST_RED_RES.map((r,i)=>[r,HIST_RED_CNT[i]]))).attr("fill","none").attr("stroke",RED).attr("stroke-width",2);
hg.append("path").attr("d",hl(HIST_BLUE_RES.map((r,i)=>[r,HIST_BLUE_CNT[i]]))).attr("fill","none").attr("stroke",BLUE).attr("stroke-width",2);
</script></body></html>
